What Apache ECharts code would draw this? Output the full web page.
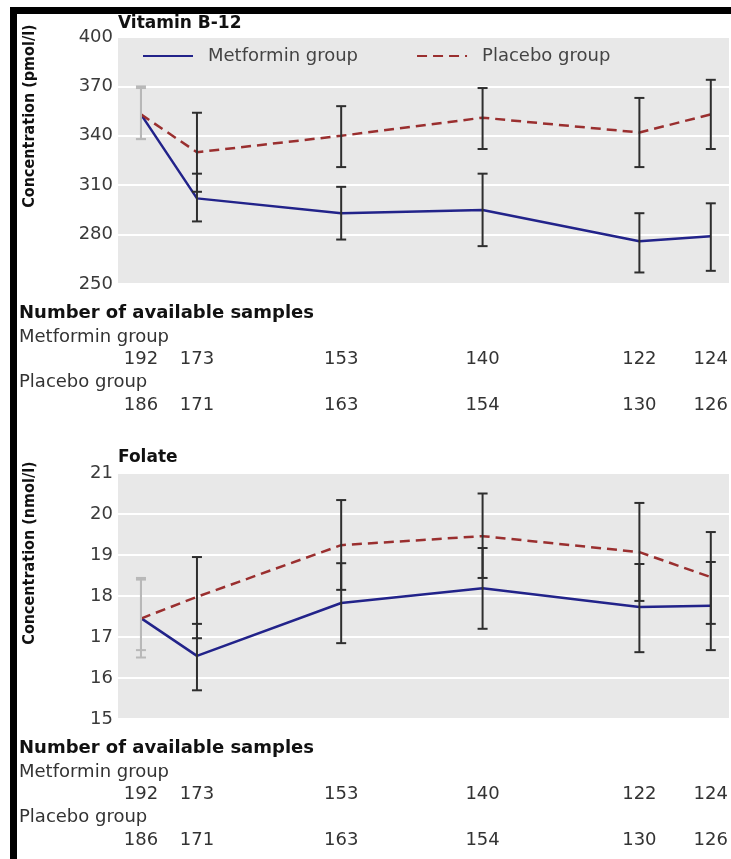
<!DOCTYPE html>
<html><head><meta charset="utf-8">
<script src="https://cdn.jsdelivr.net/npm/echarts@6/dist/echarts.min.js"></script>
<style>html,body{margin:0;padding:0;background:#fff;}#c{width:731px;height:859px;}</style>
</head><body><div id="c"></div>
<script>
// Visit positions along the time axis
const visitMonth = [0, 4, 14.3, 24.4, 35.6, 40.7];
const seriesNames = ['Metformin group', 'Placebo group'];

// Vitamin B-12 (pmol/l)
const b12Metformin = [353, 302, 293, 295, 276, 279];
const b12MetLow    = [338, 288, 277, 273, 257, 258];
const b12MetHigh   = [370, 317, 309, 317, 293, 299];
const b12Placebo   = [353, 330, 340, 351, 342, 353];
const b12PlaLow    = [338, 306, 321, 332, 321, 332];
const b12PlaHigh   = [369, 354, 358, 369, 363, 374];
const b12Ticks = [250, 280, 310, 340, 370, 400];

// Folate (nmol/l)
const folMetformin = [17.46, 16.54, 17.83, 18.19, 17.73, 17.76];
const folMetLow    = [16.5, 15.7, 16.85, 17.2, 16.63, 16.68];
const folMetHigh   = [18.4, 17.32, 18.8, 19.17, 18.78, 18.83];
const folPlacebo   = [17.45, 17.98, 19.24, 19.46, 19.07, 18.46];
const folPlaLow    = [16.68, 16.97, 18.15, 18.44, 17.88, 17.32];
const folPlaHigh   = [18.44, 18.95, 20.34, 20.5, 20.27, 19.56];
const folTicks = [15, 16, 17, 18, 19, 20, 21];

// Number of available samples
const metforminN = [192, 173, 153, 140, 122, 124];
const placeboN   = [186, 171, 163, 154, 130, 126];

const FONT = "'DejaVu Sans', sans-serif";
const NARROW = "'Liberation Sans Narrow', 'DejaVu Sans Condensed', sans-serif";
const MET_COLOR = '#22238a';
const PLA_COLOR = '#9a2f2f';

const chart = echarts.init(document.getElementById('c'));

function lineSeries(idx, name, vals, dashed) {
  return {
    type: 'line', name: name, xAxisIndex: idx, yAxisIndex: idx,
    data: visitMonth.map((m, i) => [m, vals[i]]),
    symbol: 'none', z: 3, silent: true,
    lineStyle: { color: dashed ? PLA_COLOR : MET_COLOR, width: 2.5, type: dashed ? [10, 6] : 'solid' },
    itemStyle: { color: dashed ? PLA_COLOR : MET_COLOR }
  };
}
function errSeries(idx, low, high) {
  return {
    type: 'custom', xAxisIndex: idx, yAxisIndex: idx, z: 5, silent: true,
    data: visitMonth.map((m, i) => [m, low[i], high[i], i]),
    renderItem(params, api) {
      const x = api.value(0), lo = api.value(1), hi = api.value(2), k = api.value(3);
      const p1 = api.coord([x, lo]), p2 = api.coord([x, hi]);
      const style = { stroke: k === 0 ? '#b8b8b8' : '#2e2e2e', lineWidth: 2 };
      const cw = 5;
      return { type: 'group', children: [
        { type: 'line', shape: { x1: p1[0], y1: p1[1], x2: p2[0], y2: p2[1] }, style },
        { type: 'line', shape: { x1: p1[0] - cw, y1: p1[1], x2: p1[0] + cw, y2: p1[1] }, style },
        { type: 'line', shape: { x1: p2[0] - cw, y1: p2[1], x2: p2[0] + cw, y2: p2[1] }, style }
      ]};
    }
  };
}
function yAxis(idx, ticks) {
  return {
    type: 'value', gridIndex: idx, min: ticks[0], max: ticks[ticks.length - 1],
    interval: ticks[1] - ticks[0],
    axisLine: { show: false }, axisTick: { show: false },
    axisLabel: { fontSize: 18, color: '#3a3a3a', margin: 5, fontFamily: FONT },
    splitLine: { lineStyle: { color: '#ffffff', width: 2 } }
  };
}
function xAxis(idx) {
  return { type: 'value', gridIndex: idx, min: -1.64, max: 42, show: false, splitLine: { show: false } };
}

const grids = [
  { left: 118, top: 37, width: 611, height: 247, show: true, backgroundColor: '#e8e8e8', borderWidth: 0 },
  { left: 118, top: 473, width: 611, height: 246, show: true, backgroundColor: '#e8e8e8', borderWidth: 0 }
];

function txt(x, y, text, opt) {
  return Object.assign({ type: 'text', x: x, y: y, silent: true,
    style: Object.assign({ text: text, fill: '#333', font: '18px ' + FONT, textVerticalAlign: 'middle' }, opt || {}) });
}

const baseGraphics = [
  { type: 'rect', shape: { x: 10, y: 7, width: 721, height: 7 }, style: { fill: '#000' }, silent: true },
  { type: 'rect', shape: { x: 10, y: 7, width: 7, height: 852 }, style: { fill: '#000' }, silent: true },
  txt(118, 24, 'Vitamin B-12', { font: 'bold 17px ' + FONT, fill: '#111' }),
  txt(118, 458, 'Folate', { font: 'bold 17px ' + FONT, fill: '#111' }),
  { type: 'text', x: 30, y: 116, rotation: Math.PI / 2, silent: true,
    style: { text: 'Concentration (pmol/l)', font: 'bold 16px ' + NARROW, fill: '#111', textAlign: 'center', textVerticalAlign: 'middle' } },
  { type: 'text', x: 30, y: 553, rotation: Math.PI / 2, silent: true,
    style: { text: 'Concentration (nmol/l)', font: 'bold 16px ' + NARROW, fill: '#111', textAlign: 'center', textVerticalAlign: 'middle' } }
];
[284, 719].forEach(b => {
  baseGraphics.push(txt(19, b + 29, 'Number of available samples', { font: 'bold 18px ' + FONT, fill: '#111' }));
  baseGraphics.push(txt(19, b + 53, seriesNames[0]));
  baseGraphics.push(txt(19, b + 98, seriesNames[1]));
});

chart.setOption({
  animation: false,
  backgroundColor: '#ffffff',
  grid: grids,
  xAxis: [xAxis(0), xAxis(1)],
  yAxis: [yAxis(0, b12Ticks), yAxis(1, folTicks)],
  legend: {
    data: seriesNames, left: 137, top: 42, itemWidth: 50, itemHeight: 12, itemGap: 58,
    selectedMode: false,
    itemStyle: { opacity: 0 },
    textStyle: { fontSize: 18, color: '#444', fontFamily: FONT, padding: [0, 0, 0, 10] }
  },
  series: [
    lineSeries(0, seriesNames[0], b12Metformin, false),
    lineSeries(0, seriesNames[1], b12Placebo, true),
    errSeries(0, b12MetLow, b12MetHigh),
    errSeries(0, b12PlaLow, b12PlaHigh),
    lineSeries(1, seriesNames[0], folMetformin, false),
    lineSeries(1, seriesNames[1], folPlacebo, true),
    errSeries(1, folMetLow, folMetHigh),
    errSeries(1, folPlaLow, folPlaHigh)
  ],
  graphic: baseGraphics
});

// Sample counts placed under each visit through the x scale
const countGraphics = baseGraphics.slice();
[[0, 284], [1, 719]].forEach(([g, b]) => {
  visitMonth.forEach((m, i) => {
    const px = chart.convertToPixel({ xAxisIndex: g }, m);
    countGraphics.push(txt(px, b + 75, String(metforminN[i]), { textAlign: 'center' }));
    countGraphics.push(txt(px, b + 121, String(placeboN[i]), { textAlign: 'center' }));
  });
});
chart.setOption({ graphic: countGraphics }, { replaceMerge: ['graphic'] });
</script></body></html>
